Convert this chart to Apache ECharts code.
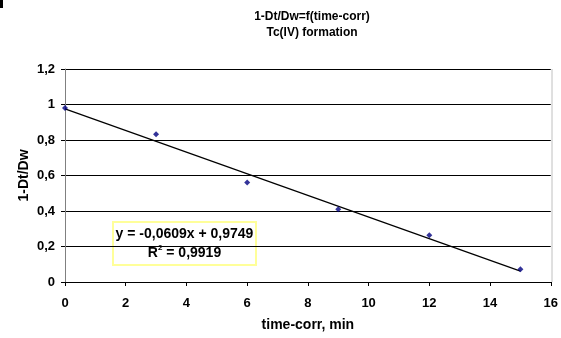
<!DOCTYPE html>
<html>
<head>
<meta charset="utf-8">
<script src="https://cdn.jsdelivr.net/npm/echarts@6/dist/echarts.min.js"></script>
<style>
  html, body { margin: 0; padding: 0; background: #fff; }
  #chart { width: 561px; height: 338px; }
</style>
</head>
<body>
<div id="chart"></div>
<script>
// measured points
const timeCorr = [0, 3, 6, 9, 12, 15]
const ratio = [0.98, 0.833, 0.561, 0.41, 0.263, 0.072]

// linear trend line, ends
const trendX = [0, 15]
const trendY = [0.975, 0.061]

const eqLines = ['y = -0,0609x + 0,9749', 'R{s|2} = 0,9919']

const font = 'Arial, "Liberation Sans", sans-serif'
const bold = { fontWeight: 'bold', color: '#000', fontFamily: font }
const chart = echarts.init(document.getElementById('chart'))

chart.setOption({
  animation: false,
  textStyle: { fontFamily: font },
  title: {
    text: '1-Dt/Dw=f(time-corr)\nTc(IV) formation',
    left: 307,
    top: 4,
    textAlign: 'center',
    textStyle: { ...bold, fontSize: 12, lineHeight: 16 },
  },
  grid: { left: 65, right: 9, top: 69, bottom: 56 },
  xAxis: {
    type: 'value',
    min: 0,
    max: 16,
    interval: 2,
    name: 'time-corr, min',
    nameLocation: 'middle',
    nameGap: 36,
    nameTextStyle: { ...bold, fontSize: 14 },
    axisLine: { lineStyle: { color: '#000', width: 1 } },
    axisTick: { show: true, inside: false, length: 4, lineStyle: { color: '#000' } },
    axisLabel: { ...bold, fontSize: 13, margin: 15, formatter: (v) => String(v) },
    splitLine: { show: false },
  },
  yAxis: {
    type: 'value',
    min: 0,
    max: 1.2,
    interval: 0.2,
    name: '1-Dt/Dw',
    nameLocation: 'middle',
    nameGap: 34,
    nameRotate: 90,
    nameMoveOverlap: false,
    nameTextStyle: { ...bold, fontSize: 14 },
    axisLine: { show: true, lineStyle: { color: '#808080', width: 1 } },
    axisTick: { show: true, length: 4, lineStyle: { color: '#000' } },
    axisLabel: {
      ...bold, fontSize: 13, margin: 10,
      formatter: (v) => String(+v.toFixed(1)).replace('.', ','),
    },
    splitLine: { show: true, lineStyle: { color: '#000', width: 1 } },
  },
  graphic: [
    // right border of the plot area
    { type: 'line', shape: { x1: 552, y1: 69, x2: 552, y2: 282 }, style: { stroke: '#c0c0c0', lineWidth: 1 }, z: 1 },
    // stray mark in the top-left corner
    { type: 'rect', shape: { x: 0, y: 0, width: 3, height: 8 }, style: { fill: '#000' } },
    // regression box
    {
      type: 'group',
      left: 112,
      top: 221,
      z: 100,
      children: [
        { type: 'rect', shape: { x: 0, y: 0, width: 143, height: 43 }, style: { fill: '#fff', stroke: '#ffff99', lineWidth: 2 } },
        {
          type: 'text',
          x: 71.5,
          y: 22,
          style: {
            text: eqLines.join('\n'),
            align: 'center',
            verticalAlign: 'middle',
            fontSize: 14,
            fontWeight: 'bold',
            fontFamily: font,
            fill: '#000',
            lineHeight: 19,
            rich: {
              s: { fontSize: 8, fontWeight: 'bold', fontFamily: font, verticalAlign: 'top', padding: [0, 0, 7, 0] },
            },
          },
        },
      ],
    },
  ],
  series: [
    {
      name: 'trend',
      type: 'line',
      data: trendX.map((x, i) => [x, trendY[i]]),
      symbol: 'none',
      lineStyle: { color: '#000', width: 1.2 },
      z: 3,
    },
    {
      name: '1-Dt/Dw',
      type: 'scatter',
      data: timeCorr.map((x, i) => [x, ratio[i]]),
      symbol: 'diamond',
      symbolSize: 6,
      itemStyle: { color: '#000080' },
      z: 4,
    },
  ],
})
</script>
</body>
</html>
